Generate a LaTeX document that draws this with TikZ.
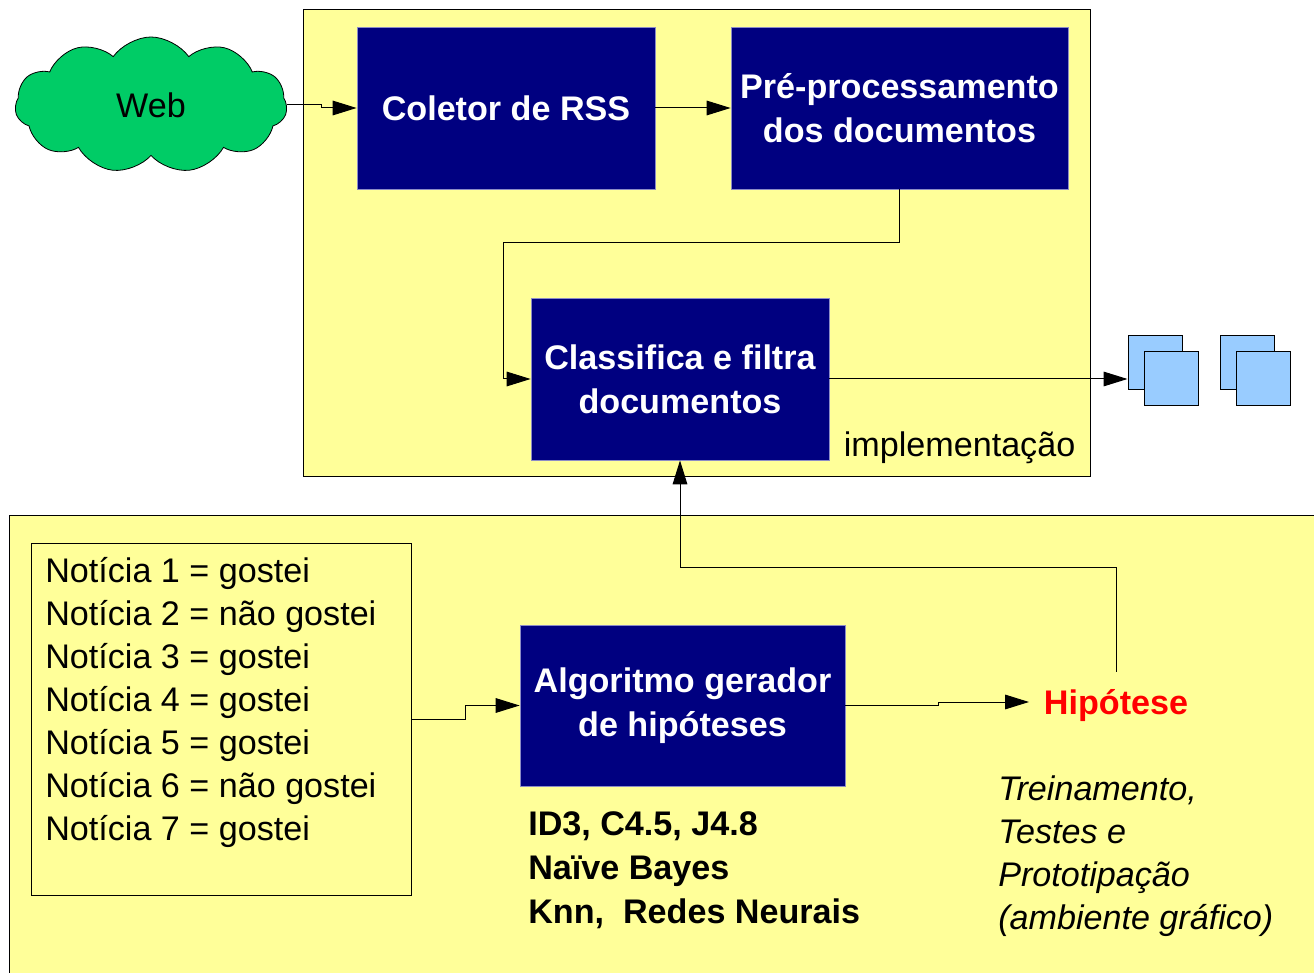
\documentclass[tikz,border=0pt]{standalone}
\usepackage{fontspec}
\setmainfont{Liberation Sans}
\usetikzlibrary{arrows.meta,shapes.symbols}
\definecolor{navy}{HTML}{000080}
\definecolor{paleyellow}{HTML}{FFFF99}
\definecolor{webgreen}{HTML}{00CC66}
\definecolor{docblue}{HTML}{99CCFF}
\newcommand{\diagfont}{\fontsize{25.6}{33}\selectfont}
\begin{document}
\begin{tikzpicture}[x=0.75pt,y=-0.75pt,>={Triangle[length=18pt,width=11pt]},line join=miter,font=\diagfont,
  area/.style={draw,line width=0.75pt,fill=paleyellow},
  procbox/.style={draw=navy!45!white,line width=0.6pt,fill=navy,text=white,font=\diagfont\bfseries,align=center,minimum height=121.5pt,inner sep=0pt},
  docpage/.style={draw,line width=0.75pt,fill=docblue,minimum size=40.5pt,inner sep=0pt},
  link/.style={->,line width=0.75pt}]
\useasboundingbox (0,0) rectangle (1314,973);
\clip (0,0) rectangle (1314,973);
% the two areas
\draw[area] (303,10) rectangle (1090,477);
\draw[area] (9,515) rectangle (1330,990);
% implementation
\node[cloud,cloud puffs=11,cloud puff arc=110,aspect=2,draw,line width=0.6pt,fill=webgreen,minimum width=204pt,minimum height=102pt,inner sep=0pt] (web) at (151,105) {Web};
\node[procbox,minimum width=223.5pt] (col) at (506,108) {Coletor de RSS};
\node[procbox,minimum width=252.75pt] (pre) at (899.5,108) {Pré-processamento\\dos documentos};
\node[procbox,minimum width=223.5pt] (cls) at (680,379) {Classifica e filtra\\documentos};
\node[anchor=base east] (impl) at (1080,456) {implementação};
\foreach \x [count=\i] in {1155,1247} {
  \node[docpage] (doc\i) at (\x,363) {};
  \node[docpage] at (\x+16,379) {};
}
\coordinate (bend1) at (503,243);
\draw[link] (web.east) -- ++(35,0) |- (col.west);
\draw[link] (col.east) -- (pre.west);
\draw[link] (pre.south) |- (bend1) |- (cls.west);
\draw[link] (cls.east) -- (cls.east -| doc1.west);
% training
\node[draw,line width=0.75pt,minimum width=285pt,minimum height=264pt] (lst) at (221,719) {};
\foreach \r [count=\i] in {gostei,não gostei,gostei,gostei,gostei,não gostei,gostei}
  \node[anchor=base west,inner sep=0pt] at (45,539+43*\i) {Notícia \i\ = \r};
\node[procbox,minimum width=243.75pt,minimum height=120.75pt] (alg) at (682.5,705.5) {Algoritmo gerador\\de hipóteses};
\node[anchor=north west,align=left,inner sep=0pt,font=\diagfont\bfseries] (algs) at (528,811) {ID3, C4.5, J4.8\\Naïve Bayes\\Knn,\ \ Redes Neurais};
\node[text=red,font=\diagfont\bfseries,text height=18pt,text depth=0pt,inner xsep=11pt,inner ysep=13.5pt] (hip) at (1116,702) {Hipótese};
\node[anchor=north west,align=left,inner sep=0pt,font=\fontsize{25.6}{32.3}\selectfont\itshape] (treino) at (998,775) {Treinamento,\\Testes e\\Prototipação\\(ambiente gráfico)};
\coordinate (bend2) at (680,567);
\draw[link] (lst.east) -- ++(54,0) |- (alg.west);
\draw[link] (alg.east) -- ++(93,0) |- (hip.west);
\draw[link] (hip.north) |- (bend2) -- (cls.south);
\end{tikzpicture}
\end{document}
